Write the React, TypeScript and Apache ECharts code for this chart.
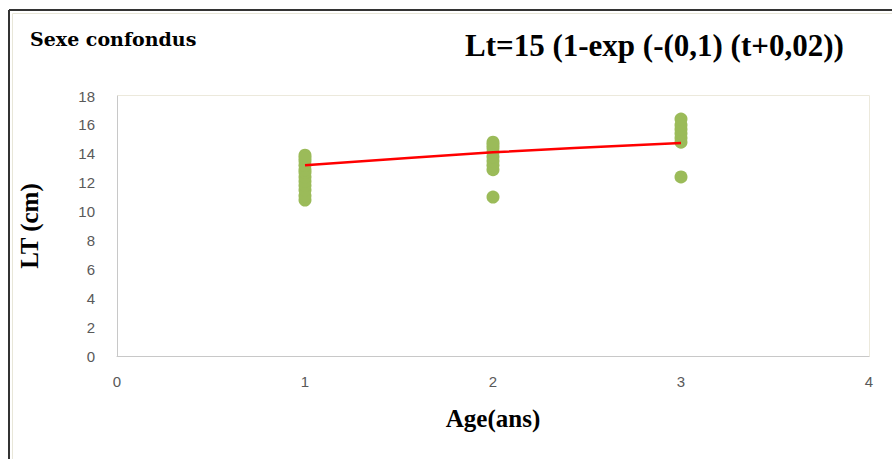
import React, { useEffect, useRef } from "react";
import * as echarts from "echarts";

const age1Values = [10.8, 11.1, 11.5, 11.8, 12.1, 12.4, 12.7, 12.9, 13.2, 13.5, 13.7, 13.9];
const age2Values = [11.0, 12.9, 13.2, 13.5, 13.8, 14.1, 14.4, 14.6, 14.8];
const age3Values = [12.4, 14.8, 15.1, 15.4, 15.7, 16.0, 16.4];
const fitAges = [1, 2, 3];
const fitValues = [13.2, 14.1, 14.75];
const title = "Sexe confondus";
const equation = "Lt=15 (1-exp (-(0,1) (t+0,02))";

export default function App() {
  const ref = useRef<HTMLDivElement>(null);
  useEffect(() => {
    if (!ref.current) return;
    const chart = echarts.init(ref.current, null, { renderer: "svg" });
    const points: number[][] = [
      ...age1Values.map((v) => [1, v]),
      ...age2Values.map((v) => [2, v]),
      ...age3Values.map((v) => [3, v]),
    ];
    chart.setOption({
      animation: false,
      backgroundColor: "#ffffff",
      graphic: [
        { type: "line", shape: { x1: 9, y1: 10, x2: 892, y2: 10 }, style: { stroke: "#333", lineWidth: 2 } },
        { type: "line", shape: { x1: 9, y1: 10, x2: 9, y2: 459 }, style: { stroke: "#333", lineWidth: 2 } },
        { type: "line", shape: { x1: 12.5, y1: 13.5, x2: 892, y2: 13.5 }, style: { stroke: "#e8e6d8", lineWidth: 1 } },
        { type: "line", shape: { x1: 12.5, y1: 13.5, x2: 12.5, y2: 459 }, style: { stroke: "#e8e6d8", lineWidth: 1 } },
        { type: "rect", shape: { x: 117.5, y: 95.5, width: 752, height: 261 }, style: { fill: "none", stroke: "#ece9dc", lineWidth: 1 }, z: -1 },
        {
          type: "text",
          left: 30,
          top: 29,
          style: { text: title, font: "bold 19px 'DejaVu Serif'", fill: "#000" },
        },
        {
          type: "text",
          left: 465,
          top: 30,
          style: { text: equation, font: "bold 31px 'Liberation Serif'", fill: "#000" },
        },
      ],
      grid: { left: 117, right: 23, top: 96, bottom: 103 },
      xAxis: {
        type: "value",
        min: 0,
        max: 4,
        interval: 1,
        name: "Age(ans)",
        nameLocation: "middle",
        nameGap: 50,
        nameTextStyle: { fontFamily: "Liberation Serif", fontWeight: "bold", fontSize: 25, color: "#000" },
        axisLine: { show: true, lineStyle: { color: "#c8c8c8", width: 1 } },
        axisTick: { show: false },
        splitLine: { show: false },
        axisLabel: { color: "#595959", fontFamily: "Liberation Sans", fontSize: 15, margin: 18 },
      },
      yAxis: {
        type: "value",
        min: 0,
        max: 18,
        interval: 2,
        name: "LT (cm)",
        nameLocation: "middle",
        nameGap: 75,
        nameRotate: 90,
        nameTextStyle: { fontFamily: "Liberation Serif", fontWeight: "bold", fontSize: 25, color: "#000" },
        axisLine: { show: true, lineStyle: { color: "#c8c8c8", width: 1 } },
        axisTick: { show: false },
        splitLine: { show: false },
        axisLabel: { color: "#595959", fontFamily: "Liberation Sans", fontSize: 15, margin: 22 },
      },
      series: [
        {
          type: "scatter",
          data: points,
          symbolSize: 13,
          itemStyle: { color: "#9bbb59", opacity: 1 },
          z: 2,
        },
        {
          type: "line",
          data: fitAges.map((a, i) => [a, fitValues[i]]),
          smooth: 0.3,
          showSymbol: false,
          lineStyle: { color: "#ff0000", width: 2.5 },
          z: 3,
        },
      ],
    });
    return () => chart.dispose();
  }, []);
  return <div ref={ref} style={{ width: 892, height: 459, position: "absolute", left: 0, top: 0 }} />;
}
